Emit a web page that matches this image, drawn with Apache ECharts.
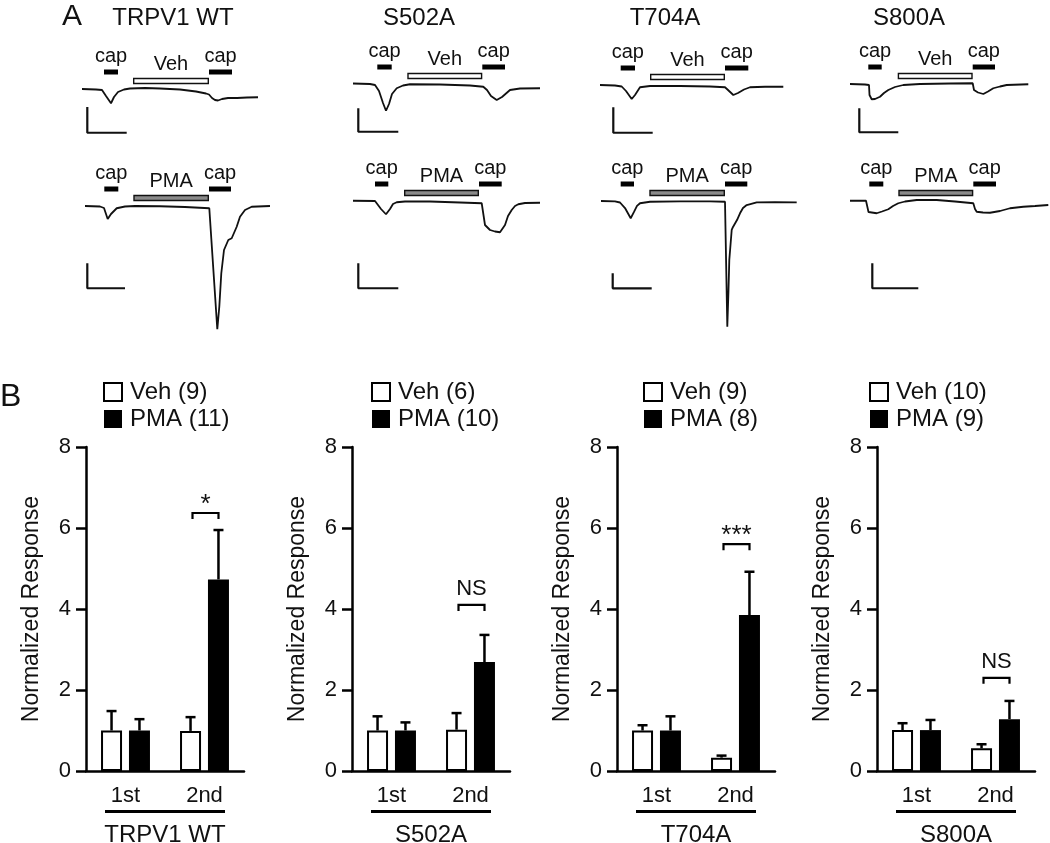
<!DOCTYPE html>
<html><head><meta charset="utf-8">
<script src="https://cdn.jsdelivr.net/npm/echarts@6/dist/echarts.min.js"></script>
<style>html,body{margin:0;padding:0;background:#fff}#c{width:1050px;height:843px}</style>
</head><body><div id="c"></div>
<script>
// ================= DATA =================
// ---- Panel B: normalized responses ----
const groups = ['TRPV1 WT','S502A','T704A','S800A'];
const categories = ['1st','2nd'];
const yMin = 0, yMax = 8, yStep = 2;
const vehN = [9,6,9,10];
const pmaN = [11,10,8,9];
const vehMean = [[1.0,0.99],[1.0,1.02],[1.0,0.33],[1.01,0.56]];
const vehErrTop = [[1.48,1.33],[1.35,1.43],[1.13,0.38],[1.18,0.66]];
const pmaMean = [[1.0,4.73],[1.0,2.69],[1.0,3.85],[1.01,1.28]];
const pmaErrTop = [[1.28,5.95],[1.2,3.36],[1.35,4.92],[1.26,1.73]];
const sigLabel = ['*','NS','***','NS'];
const sigLevel = [6.37,4.1,5.6,2.3];

// ---- Panel A: current traces [time (s), current (nA)] ----
const trace_WT_Veh = [[0,0],[14,-0.02],[20,-0.04],[24,-0.28],[29,-0.57],[32,-0.32],[36,-0.12],[42,-0.02],[48,0.02],[63,0.04],[78,0.02],[98,-0.02],[114,-0.1],[124,-0.18],[127,-0.22],[130,-0.36],[133,-0.44],[136,-0.46],[140,-0.4],[146,-0.36],[155,-0.36],[165,-0.34],[176,-0.33]];
const trace_WT_PMA = [[0,0],[15,-0.02],[19,-0.08],[22.7,-0.52],[26,-0.32],[31.7,-0.09],[40,-0.02],[50,0],[75,-0.01],[100,-0.04],[124.3,-0.09],[132.3,-4.93],[134.3,-4.03],[136.3,-2.69],[139,-1.76],[143.3,-1.36],[146.7,-1.29],[148.3,-1.32],[151.7,-0.83],[155,-0.43],[160,-0.16],[166.7,-0.03],[185,0]];
const trace_S502A_Veh = [[0,0.02],[17,0],[22,-0.04],[26,-0.28],[30,-0.76],[33,-1.07],[36,-0.8],[39,-0.4],[43.7,-0.17],[50,-0.06],[57,-0.01],[87,-0.02],[117,-0.06],[130.3,-0.11],[134,-0.24],[138,-0.48],[143.7,-0.64],[149,-0.52],[157,-0.24],[167,-0.18],[187,-0.17]];
const trace_S502A_PMA = [[0,0.01],[22,0],[24,-0.08],[28,-0.32],[33,-0.53],[37,-0.32],[40,-0.12],[43.7,-0.05],[52,-0.02],[77,-0.02],[107,-0.06],[128.7,-0.09],[132,-0.96],[137,-1.16],[142,-1.22],[147,-1.25],[152,-0.96],[155,-0.6],[158.7,-0.36],[162,-0.2],[165.3,-0.13],[172,-0.08],[187,-0.07]];
const trace_T704A_Veh = [[0,0],[15,-0.02],[21.7,-0.06],[26,-0.24],[31.7,-0.56],[35,-0.4],[40,-0.09],[50,-0.04],[80,-0.04],[110,-0.06],[125,-0.09],[128,-0.2],[133.3,-0.4],[138,-0.32],[144,-0.18],[150,-0.09],[165,-0.07],[183.3,-0.07]];
const trace_T704A_PMA = [[0,0],[14,-0.03],[19,-0.1],[24,-0.47],[29.7,-1.15],[33,-0.73],[36,-0.33],[39,-0.15],[49,-0.05],[79,-0.03],[109,-0.03],[124,-0.05],[126.3,-8.38],[127.5,-5.93],[128.3,-3.93],[130.7,-1.93],[132,-1.73],[134,-1.6],[136,-1.27],[139,-0.82],[142,-0.47],[145.7,-0.27],[155.7,-0.09],[174,-0.07],[195.7,-0.09]];
const trace_S800A_Veh = [[0,0],[15,-0.02],[19,-0.04],[19.5,-0.44],[21.7,-0.61],[25,-0.6],[30,-0.51],[34,-0.36],[38.3,-0.24],[45,-0.12],[53.3,-0.04],[70,0],[100,0.02],[122.7,0.03],[124,-0.24],[128,-0.34],[133.3,-0.4],[138,-0.3],[143.3,-0.17],[150,-0.1],[156.7,-0.04],[178.3,-0.01]];
const trace_S800A_PMA = [[0,0.01],[16,0.01],[18,-0.02],[18.5,-0.44],[20,-0.49],[26.7,-0.49],[32,-0.42],[38.3,-0.33],[43,-0.2],[48.3,-0.09],[55,-0.02],[66.7,0.04],[86.7,0.04],[105,-0.02],[123.3,-0.09],[125,-0.32],[126.7,-0.43],[133,-0.46],[140,-0.47],[150,-0.4],[160,-0.29],[173.3,-0.23],[185,-0.2],[198.3,-0.16]];

const appLabels = ['cap','Veh','PMA'];
const traceDrug = [1,2,1,2,1,2,1,2];
const cap1Times = [[22,36],[19.3,33.3],[24.3,38.7],[22,35.3],[20.7,35],[19.7,33],[18.3,31.7],[19.3,33.3]];
const drugTimes = [[51,127],[48.3,124],[54.3,129.3],[51,126],[50,125],[48.3,124],[47.7,122.7],[48.3,123.3]];
const cap2Times = [[127,150],[124,146],[129.3,152],[126,148.7],[125,148.3],[124,146.3],[122.7,145],[123.3,146]];
// scale bars: [time, top current, bottom current, end time]
const scaleBars = [[5.3,-0.72,-1.75,44.7],[2.3,-2.29,-3.29,40],[5.3,-0.97,-1.91,45.3],[5.3,-2.49,-3.49,45.3],[13.3,-0.89,-1.91,52.7],[11.7,-4.82,-5.82,50.7],[9.3,-0.97,-1.93,48.3],[22.3,-2.49,-3.49,68.3]];
const traces = [trace_WT_Veh,trace_WT_PMA,trace_S502A_Veh,trace_S502A_PMA,trace_T704A_Veh,trace_T704A_PMA,trace_S800A_Veh,trace_S800A_PMA];

// ================= LAYOUT =================
const FONT = '"Liberation Sans", Arial, Helvetica, sans-serif';
const traceLayout = [{left:82,base:89,ppn:25},{left:85,base:206,ppn:25},{left:353,base:84,ppn:25},{left:353,base:201,ppn:25},{left:600,base:85,ppn:25},{left:601,base:201,ppn:15},{left:850,base:84,ppn:25},{left:850,base:201,ppn:25}];
const titleX = [173,419,665,909];
const barLeft = [86,352,617,877];
const barGridW = 158, barTop = 447, barH = 324;
const legendLeft = [103,371,643,869];
const BW = 21, GAPPCT = 0.33;
const BOFF = (BW + BW*GAPPCT)/2;

const grids=[], xAxes=[], yAxes=[], series=[], legends=[], graphics=[];

function renderApp(params, api){
  const kind = api.value(2);
  const p0 = api.coord([api.value(0), 0]);
  const p1 = api.coord([api.value(1), 0]);
  const base = p0[1];
  const cx = (p0[0]+p1[0])/2;
  if(kind===0){
    return {type:'group', children:[
      {type:'rect', shape:{x:p0[0], y:base-17-2.5, width:p1[0]-p0[0], height:5}, style:{fill:'#000'}},
      {type:'text', style:{text:appLabels[0], x:cx, y:base-33, align:'center', verticalAlign:'middle', font:'20px '+FONT, fill:'#111'}}
    ]};
  }
  return {type:'group', children:[
    {type:'rect', shape:{x:p0[0]+0.7, y:base-8-2.5, width:p1[0]-p0[0]-1.4, height:5}, style:{fill: kind===1?'#fff':'#8a8a8a', stroke:'#111', lineWidth:1.4}},
    {type:'text', style:{text:appLabels[kind], x:cx, y:base-25, align:'center', verticalAlign:'middle', font:'20px '+FONT, fill:'#111'}}
  ]};
}

traces.forEach((tr,i)=>{
  const L = traceLayout[i];
  grids.push({left:L.left, top:L.base-70, width:200, height:200, outerBoundsMode:'none', containLabel:false});
  xAxes.push({type:'value', gridIndex:i, min:0, max:200, show:false});
  yAxes.push({type:'value', gridIndex:i, min:-130/L.ppn, max:70/L.ppn, show:false});
  series.push({type:'line', xAxisIndex:i, yAxisIndex:i, data:tr, symbol:'none', silent:true, lineStyle:{color:'#111', width:1.8}});
  const s = scaleBars[i];
  series.push({type:'line', xAxisIndex:i, yAxisIndex:i, data:[[s[0],s[1]],[s[0],s[2]],[s[3],s[2]]], symbol:'none', silent:true, lineStyle:{color:'#111', width:2.2}});
  series.push({type:'custom', xAxisIndex:i, yAxisIndex:i, clip:false, silent:true,
    data:[[cap1Times[i][0],cap1Times[i][1],0],[drugTimes[i][0],drugTimes[i][1],traceDrug[i]],[cap2Times[i][0],cap2Times[i][1],0]],
    encode:{x:[0,1]}, renderItem:renderApp});
});

function renderErr(params, api){
  const cat = api.value(0), side = api.value(1);
  const c = api.coord([cat, 0]);
  const x = c[0] + (side===0 ? -BOFF : BOFF);
  const yT = api.coord([cat, api.value(2)])[1];
  const yE = api.coord([cat, api.value(3)])[1];
  return {type:'group', children:[
    {type:'line', shape:{x1:x, y1:yT, x2:x, y2:yE}, style:{stroke:'#000', lineWidth:2.5}},
    {type:'line', shape:{x1:x-5, y1:yE, x2:x+5, y2:yE}, style:{stroke:'#000', lineWidth:2.5}}
  ]};
}
function makeSig(k){
  return function(params, api){
    const c = api.coord([api.value(0), api.value(1)]);
    const x1 = c[0]-12, x2 = c[0]+14, y = c[1];
    const txt = sigLabel[k];
    const star = txt.indexOf('*')>=0;
    return {type:'group', children:[
      {type:'polyline', shape:{points:[[x1,y+6],[x1,y],[x2,y],[x2,y+6]]}, style:{stroke:'#000', lineWidth:2.2, fill:null}},
      {type:'text', style:{text:txt, x:c[0]+1, y: star ? y+5 : y-5, align:'center', verticalAlign:'bottom', font:(star?'26px ':'22px ')+FONT, fill:'#111'}}
    ]};
  };
}

groups.forEach((g,k)=>{
  const gi = 8+k;
  grids.push({left:barLeft[k], top:barTop, width:barGridW, height:barH, outerBoundsMode:'none', containLabel:false});
  xAxes.push({type:'category', gridIndex:gi, data:categories, axisTick:{show:false},
    axisLine:{lineStyle:{color:'#000', width:2.5}},
    axisLabel:{fontSize:22, color:'#111', margin:14, fontFamily:FONT},
    name:g, nameLocation:'middle', nameGap:52, nameTextStyle:{fontSize:24, color:'#111', fontFamily:FONT}});
  yAxes.push({type:'value', gridIndex:gi, min:yMin, max:yMax, interval:yStep,
    axisLine:{show:true, lineStyle:{color:'#000', width:2.5}},
    axisTick:{show:true, length:10, lineStyle:{color:'#000', width:2.5}},
    axisLabel:{fontSize:22, color:'#111', margin:15, fontFamily:FONT},
    splitLine:{show:false},
    name:'Normalized Response', nameLocation:'middle', nameGap:43, nameTextStyle:{fontSize:23, color:'#111', fontFamily:FONT}});
  const vName = 'Veh ('+vehN[k]+')', pName = 'PMA ('+pmaN[k]+')';
  series.push({type:'bar', name:vName, xAxisIndex:gi, yAxisIndex:gi, data:vehMean[k], barWidth:BW, barGap:(GAPPCT*100)+'%', itemStyle:{color:'#fff', borderColor:'#000', borderWidth:2}, silent:true});
  series.push({type:'bar', name:pName, xAxisIndex:gi, yAxisIndex:gi, data:pmaMean[k], barWidth:BW, barGap:(GAPPCT*100)+'%', itemStyle:{color:'#000'}, silent:true});
  const errData = [];
  for(let c=0;c<2;c++){
    errData.push([c,0,vehMean[k][c],vehErrTop[k][c]]);
    errData.push([c,1,pmaMean[k][c],pmaErrTop[k][c]]);
  }
  series.push({type:'custom', xAxisIndex:gi, yAxisIndex:gi, data:errData, renderItem:renderErr, clip:false, silent:true, z:1});
  series.push({type:'custom', xAxisIndex:gi, yAxisIndex:gi, data:[[1, sigLevel[k]]], renderItem:makeSig(k), clip:false, silent:true});
  legends.push({left:legendLeft[k], top:380, padding:0, orient:'vertical', itemWidth:18, itemHeight:18, itemGap:3, icon:'rect', selectedMode:false,
    textStyle:{fontSize:24, color:'#111', fontFamily:FONT, padding:[0,0,0,3]},
    data:[{name:vName, itemStyle:{color:'#fff', borderColor:'#000', borderWidth:2}}, {name:pName, itemStyle:{color:'#000', borderWidth:0}}]});
  const cx = barLeft[k] + barGridW/2;
  graphics.push({type:'line', shape:{x1:cx-60, y1:811.5, x2:cx+60, y2:811.5}, style:{stroke:'#000', lineWidth:2.8}});
});

groups.forEach((g,k)=>{
  graphics.push({type:'text', x:titleX[k], y:18, style:{text:g, align:'center', verticalAlign:'middle', font:'24px '+FONT, fill:'#111'}});
});
graphics.push({type:'text', x:62, y:17, style:{text:'A', align:'left', verticalAlign:'middle', font:'30px '+FONT, fill:'#111'}});
graphics.push({type:'text', x:0, y:397, style:{text:'B', align:'left', verticalAlign:'middle', font:'32px '+FONT, fill:'#111'}});

const chart = echarts.init(document.getElementById('c'));
chart.setOption({
  animation:false,
  backgroundColor:'#fff',
  textStyle:{fontFamily:FONT},
  grid:grids, xAxis:xAxes, yAxis:yAxes, legend:legends, series:series, graphic:graphics
});
</script></body></html>
